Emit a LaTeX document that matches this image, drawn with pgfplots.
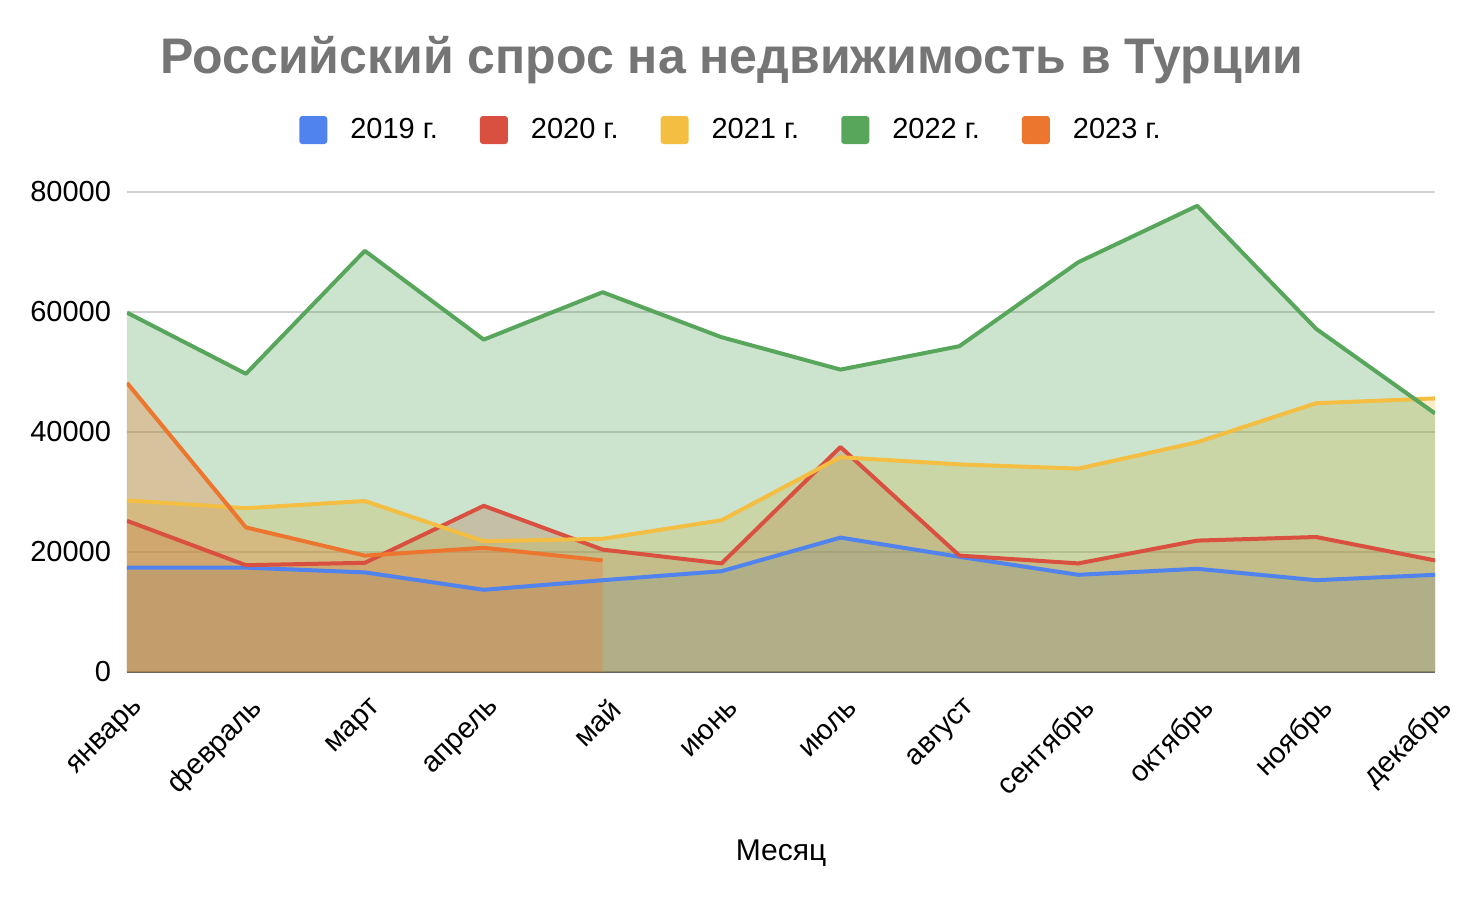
\documentclass[border=0pt]{standalone}
\usepackage{pgfplots}
\usepackage{pgfplotstable}
\pgfplotsset{compat=1.18}
\usepackage{fontspec}
\setmainfont{Liberation Sans}
\definecolor{c19}{RGB}{80,131,238}
\definecolor{c20}{RGB}{218,80,64}
\definecolor{c21}{RGB}{243,190,66}
\definecolor{c22}{RGB}{87,166,91}
\definecolor{c23}{RGB}{237,118,47}
\definecolor{titlegray}{RGB}{117,117,117}
\pgfplotstableread{
x y19 y20 y21 y22
0 17400 25200 28600 59900
1 17400 17800 27300 49700
2 16600 18200 28500 70200
3 13700 27700 21800 55400
4 15300 20400 22200 63300
5 16800 18100 25300 55800
6 22400 37500 35800 50400
7 19200 19400 34600 54300
8 16200 18100 33900 68300
9 17200 21900 38300 77700
10 15300 22500 44800 57200
11 16200 18600 45600 43100
}\dataA
\pgfplotstableread{
x y23
0 48200
1 24100
2 19400
3 20700
4 18600
}\dataB
\begin{document}
\begin{tikzpicture}
\path[use as bounding box] (-63.5pt,-116pt) rectangle (674.5pt,336pt);
\begin{axis}[
  at={(0,0)}, anchor=south west,
  scale only axis, width=654pt, height=240pt,
  xmin=0, xmax=11, ymin=0, ymax=80000,
  xtick={0,...,11},
  xticklabels={январь,февраль,март,апрель,май,июнь,июль,август,сентябрь,октябрь,ноябрь,декабрь},
  ytick={0,20000,40000,60000,80000},
  scaled y ticks=false,
  /pgf/number format/assume math mode=true,
  /pgf/number format/1000 sep={},
  ymajorgrids, grid style={color=black!18, line width=0.9pt},
  axis x line*=bottom, axis y line*=left,
  y axis line style={draw=none},
  x axis line style={draw={rgb,255:red,95;green,95;blue,95}, line width=0.8pt, -},
  major tick length=0pt,
  yticklabel style={font=\fontsize{14.5}{14.5}\selectfont, xshift=-4.5pt},
  xticklabel style={font=\fontsize{14.5}{14.5}\selectfont, rotate=45, anchor=east, xshift=-3.5pt, yshift=-15.8pt},
  xlabel={Месяц},
  xlabel style={at={(axis description cs:0.5,0)}, anchor=center, yshift=-90.5pt, font=\fontsize{15}{15}\selectfont},
  title={Российский спрос на недвижимость в Турции},
  title style={at={(axis description cs:0.4625,1)}, anchor=base, yshift=53.5pt, font=\bfseries\fontsize{25}{25}\selectfont, color=titlegray},
  legend style={at={(axis description cs:0.4625,1)}, anchor=center, yshift=31pt, legend columns=5, draw=none, fill=none,
    font=\fontsize{14.5}{14.5}\selectfont,
    /tikz/every odd column/.append style={column sep=9.5pt},
    /tikz/every even column/.append style={column sep=19pt}},
  legend image code/.code={\fill[#1, rounded corners=1.5pt] (0pt,-7pt) rectangle (14pt,7pt);},
  legend cell align=left,
]
\addlegendimage{fill=c19, draw=none}\addlegendentry{2019 г.}
\addlegendimage{fill=c20, draw=none}\addlegendentry{2020 г.}
\addlegendimage{fill=c21, draw=none}\addlegendentry{2021 г.}
\addlegendimage{fill=c22, draw=none}\addlegendentry{2022 г.}
\addlegendimage{fill=c23, draw=none}\addlegendentry{2023 г.}

\addplot[forget plot, draw=none, fill=c19, fill opacity=0.3] table[x=x, y=y19] {\dataA} \closedcycle;
\addplot[forget plot, draw=none, fill=c20, fill opacity=0.3] table[x=x, y=y20] {\dataA} \closedcycle;
\addplot[forget plot, draw=none, fill=c21, fill opacity=0.3] table[x=x, y=y21] {\dataA} \closedcycle;
\addplot[forget plot, draw=none, fill=c22, fill opacity=0.3] table[x=x, y=y22] {\dataA} \closedcycle;
\addplot[forget plot, draw=none, fill=c23, fill opacity=0.3] table[x=x, y=y23] {\dataB} \closedcycle;

\addplot[forget plot, c19, line width=2pt, line join=round] table[x=x, y=y19] {\dataA};
\addplot[forget plot, c20, line width=2pt, line join=round] table[x=x, y=y20] {\dataA};
\addplot[forget plot, c21, line width=2pt, line join=round] table[x=x, y=y21] {\dataA};
\addplot[forget plot, c22, line width=2pt, line join=round] table[x=x, y=y22] {\dataA};
\addplot[forget plot, c23, line width=2pt, line join=round] table[x=x, y=y23] {\dataB};
\end{axis}
\end{tikzpicture}
\end{document}
